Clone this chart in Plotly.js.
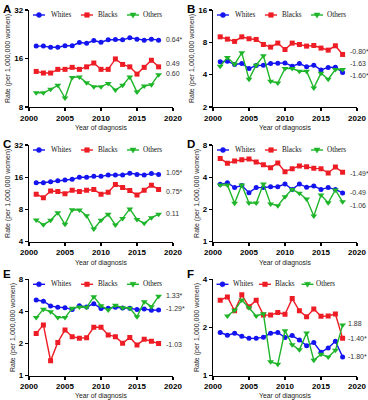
<!DOCTYPE html>
<html><head><meta charset="utf-8">
<script src="https://cdn.plot.ly/plotly-3.0.1.min.js"></script>
<style>html,body{margin:0;padding:0;background:#fff}#chart{width:368px;height:400px}</style>
</head><body><div id="chart"></div>
<script>
// ---- data ----
const years = [2001,2002,2003,2004,2005,2006,2007,2008,2009,2010,2011,2012,2013,2014,2015,2016,2017,2018];
const seriesNames = ['Whites','Blacks','Others'];
const panelLetters = ['A','B','C','D','E','F'];
const xTicks = [2000,2005,2010,2015,2020];

const panelA_whites = [19.1,19.1,18.8,18.8,19.2,19.2,20.1,19.9,20.7,20.2,20.9,21.0,20.9,21.5,21.1,20.8,21.1,20.8];
const panelA_blacks = [13.3,13.0,13.0,13.7,13.7,14.1,13.7,14.2,15.0,13.7,13.7,15.9,14.7,14.2,12.8,14.1,15.6,14.2];
const panelA_others = [9.8,9.8,10.3,10.9,9.1,12.2,12.3,11.3,10.7,10.7,11.2,10.2,10.9,12.3,9.9,10.8,11.0,12.7];

const panelB_whites = [5.27,5.34,4.97,5.08,4.56,4.87,4.90,5.08,5.12,5.15,4.80,5.08,4.73,4.90,4.43,4.67,4.70,4.19];
const panelB_blacks = [9.0,8.57,8.16,9.0,8.64,8.51,7.64,7.22,7.87,6.86,7.87,7.64,7.38,7.48,7.07,6.77,7.43,6.17];
const panelB_others = [4.80,5.78,5.01,6.39,3.63,4.90,5.99,3.47,3.35,4.56,4.56,4.31,4.31,3.01,4.13,3.63,4.47,4.47];

const panelC_whites = [14.2,14.2,14.5,14.8,15.1,15.3,16.0,16.0,16.3,16.3,16.8,16.8,16.8,17.4,17.0,16.8,17.3,17.0];
const panelC_blacks = [11.1,10.3,11.9,11.8,11.2,12.1,11.8,12.1,12.3,11.1,11.6,13.7,12.8,12.0,10.9,12.1,13.5,12.3];
const panelC_others = [6.37,5.77,6.33,7.46,5.81,7.96,7.90,7.0,5.25,6.33,7.2,5.73,6.6,8.1,6.45,5.93,6.7,7.2];

const panelD_whites = [3.43,3.56,3.20,3.34,2.87,3.20,3.20,3.26,3.26,3.46,3.08,3.46,3.22,3.31,3.08,3.20,3.08,2.85];
const panelD_blacks = [6.0,5.39,5.67,5.84,5.92,5.55,5.24,4.91,5.43,4.51,4.81,5.09,5.02,4.84,4.81,4.38,4.98,4.44];
const panelD_others = [3.38,3.38,2.28,3.38,2.30,2.30,3.46,2.25,2.17,2.63,3.08,2.83,2.50,1.74,2.73,2.31,3.04,2.36];

const panelE_whites = [5.12,4.98,4.50,4.37,4.34,4.16,4.53,4.40,4.73,4.25,4.28,4.37,4.31,4.28,4.16,4.22,4.10,4.13];
const panelE_blacks = [2.49,2.99,1.38,2.05,2.68,2.32,2.24,2.27,2.84,2.84,2.41,2.32,2.01,2.28,1.94,2.19,2.10,2.00];
const panelE_others = [3.50,4.19,3.98,3.50,3.50,4.28,4.40,4.37,5.50,4.53,4.13,4.56,4.34,4.28,3.57,4.94,4.43,5.54];

const panelF_whites = [1.86,1.79,1.84,1.76,1.71,1.71,1.74,1.84,1.86,1.73,1.78,1.67,1.54,1.61,1.40,1.49,1.64,1.31];
const panelF_blacks = [2.96,3.10,2.54,3.20,2.69,2.96,2.39,2.39,2.48,2.42,3.03,2.54,2.33,2.61,2.35,2.36,2.43,1.71];
const panelF_others = [null,2.36,2.56,2.97,2.66,2.36,2.44,1.22,1.18,1.91,1.56,1.45,1.85,1.25,1.36,1.31,1.44,2.07];

const yTicksA = [8,16,32], yTicksB = [2,4,8,16], yTicksC = [4,8,16,32];
const yTicksD = [1,2,4,8], yTicksE = [1,2,4,8], yTicksF = [1,2,4];

const apcA = ['0.64*','0.49','0.60'],   apcYA = [20.9,15.0,13.0];
const apcB = ['-0.80*','-1.63','-1.60*'], apcYB = [6.53,5.04,3.92];
const apcC = ['1.05*','0.75*','0.11'],   apcYC = [17.6,11.7,7.3];
const apcD = ['-1.49*','-0.49','-1.06'], apcYD = [4.35,2.89,2.17];
const apcE = ['1.33*','-1.29*','-1.03'], apcYE = [5.62,4.22,1.98];
const apcF = ['1.88','-1.40*','-1.80*'], apcYF = [2.13,1.71,1.31];

// ---- styling ----
const colors = ['#1414f0','#ee1c24','#1fb52a'];
const symbols = ['circle','square','triangle-down'];
const msizes = [5,5,6];
const sans = 'Liberation Sans, Arial, sans-serif';
const serif = 'Liberation Serif, Times New Roman, serif';

const panels = [
  {series:[panelA_whites,panelA_blacks,panelA_others], ticks:yTicksA, apc:apcA, apcY:apcYA},
  {series:[panelB_whites,panelB_blacks,panelB_others], ticks:yTicksB, apc:apcB, apcY:apcYB},
  {series:[panelC_whites,panelC_blacks,panelC_others], ticks:yTicksC, apc:apcC, apcY:apcYC},
  {series:[panelD_whites,panelD_blacks,panelD_others], ticks:yTicksD, apc:apcD, apcY:apcYD},
  {series:[panelE_whites,panelE_blacks,panelE_others], ticks:yTicksE, apc:apcE, apcY:apcYE},
  {series:[panelF_whites,panelF_blacks,panelF_others], ticks:yTicksF, apc:apcF, apcY:apcYF}
];

const colDom = [[0.0788,0.4701],[0.5788,0.9701]];
const rowDom = [[0.7325,0.975],[0.3958,0.6375],[0.0608,0.3018]];
// legend offsets (px from plot left): marker, text
const legStd = {mk:[10,58,104], tx:[20,67.5,112.5]};
const legF   = {mk:[9.5,52,94.5], tx:[18,60.5,101]};
const letterPos = [[1,1],[185,1],[1,136],[185,136],[1,266],[185,266]];

const data = [];
const layout = {
  width:368, height:400, margin:{l:0,r:0,t:0,b:0},
  paper_bgcolor:'#fff', plot_bgcolor:'#fff', showlegend:false,
  font:{family:sans, color:'#000'}, annotations:[], shapes:[]
};

panels.forEach((p, i) => {
  const n = i + 1;
  const xa = 'x' + (n === 1 ? '' : n), ya = 'y' + (n === 1 ? '' : n);
  const xk = 'xaxis' + (n === 1 ? '' : n), yk = 'yaxis' + (n === 1 ? '' : n);
  const col = i % 2, row = Math.floor(i / 2);
  p.series.forEach((vals, s) => {
    data.push({
      x: years, y: vals, xaxis: xa, yaxis: ya, type:'scatter', mode:'lines+markers',
      name: seriesNames[s], connectgaps:false,
      line:{color:colors[s], width:1.4},
      marker:{color:colors[s], symbol:symbols[s], size:msizes[s]},
      hoverinfo:'skip'
    });
  });
  layout[xk] = {
    domain: colDom[col], anchor: ya, range:[2000,2020], tickvals:xTicks,
    ticks:'outside', ticklen:3, tickwidth:1.2, tickcolor:'#000',
    showline:true, linecolor:'#000', linewidth:1.2, showgrid:false, zeroline:false,
    tickfont:{family:sans, size:8, weight:'bold', color:'#000'},
    title:{text:'Year of diagnosis', font:{family:sans, size:6.8, color:'#222'}, standoff:3}
  };
  const lo = p.ticks[0], hi = p.ticks[p.ticks.length-1];
  layout[yk] = {
    domain: rowDom[row], anchor: xa, type:'log', range:[Math.log10(lo), Math.log10(hi)],
    tickvals:p.ticks, ticktext:p.ticks.map(String),
    ticks:'outside', ticklen:3, tickwidth:1.2, tickcolor:'#000',
    showline:true, linecolor:'#000', linewidth:1.2, showgrid:false, zeroline:false,
    tickfont:{family:sans, size:8, weight:'bold', color:'#000'},
    title:{text:'Rate (per 1,000,000 women)', font:{family:sans, size:7, color:'#222'}, standoff:2}
  };
  // APC labels
  p.apc.forEach((t, s) => {
    layout.annotations.push({
      xref: xa, yref: ya, x: years[years.length-1], y: Math.log10(p.apcY[s]),
      text: t, showarrow:false, xanchor:'left', yanchor:'middle', xshift: (i===5?3:5),
      font:{family:sans, size:7, color:'#333'}
    });
  });
  // legend (inside plot, top)
  const lg = (i === 5) ? legF : legStd;
  const yd = ya + ' domain';
  seriesNames.forEach((nm, s) => {
    const m = lg.mk[s], yc = -5;
    layout.shapes.push({type:'line', xref:xa, yref:yd, xsizemode:'pixel', ysizemode:'pixel',
      xanchor:2000, yanchor:1, x0:m-6, x1:m+6, y0:yc, y1:yc, line:{color:colors[s], width:1.4}});
    if (s === 0) {
      layout.shapes.push({type:'circle', xref:xa, yref:yd, xsizemode:'pixel', ysizemode:'pixel',
        xanchor:2000, yanchor:1, x0:m-2.5, x1:m+2.5, y0:yc-2.5, y1:yc+2.5,
        fillcolor:colors[s], line:{color:colors[s], width:0.5}});
    } else if (s === 1) {
      layout.shapes.push({type:'rect', xref:xa, yref:yd, xsizemode:'pixel', ysizemode:'pixel',
        xanchor:2000, yanchor:1, x0:m-2.3, x1:m+2.3, y0:yc-2.3, y1:yc+2.3,
        fillcolor:colors[s], line:{color:colors[s], width:0.5}});
    } else {
      layout.shapes.push({type:'path', xref:xa, yref:yd, xsizemode:'pixel', ysizemode:'pixel',
        xanchor:2000, yanchor:1,
        path:`M${m-3},${yc+2} L${m+3},${yc+2} L${m},${yc-3} Z`,
        fillcolor:colors[s], line:{color:colors[s], width:0.5}});
    }
    layout.annotations.push({
      xref:xa, yref:yd, x:2000, y:1, xanchor:'left', yanchor:'middle',
      xshift: lg.tx[s], yshift: yc, text: nm, showarrow:false,
      font:{family:serif, size:7.2, color:'#111'}
    });
  });
  // panel letter
  layout.annotations.push({
    xref:'paper', yref:'paper', x: letterPos[i][0]/368, y: 1 - letterPos[i][1]/400,
    xanchor:'left', yanchor:'top', text: panelLetters[i], showarrow:false,
    font:{family:sans, size:11.5, weight:'bold', color:'#000'}
  });
});

Plotly.newPlot('chart', data, layout, {staticPlot:true, displayModeBar:false});
</script></body></html>
